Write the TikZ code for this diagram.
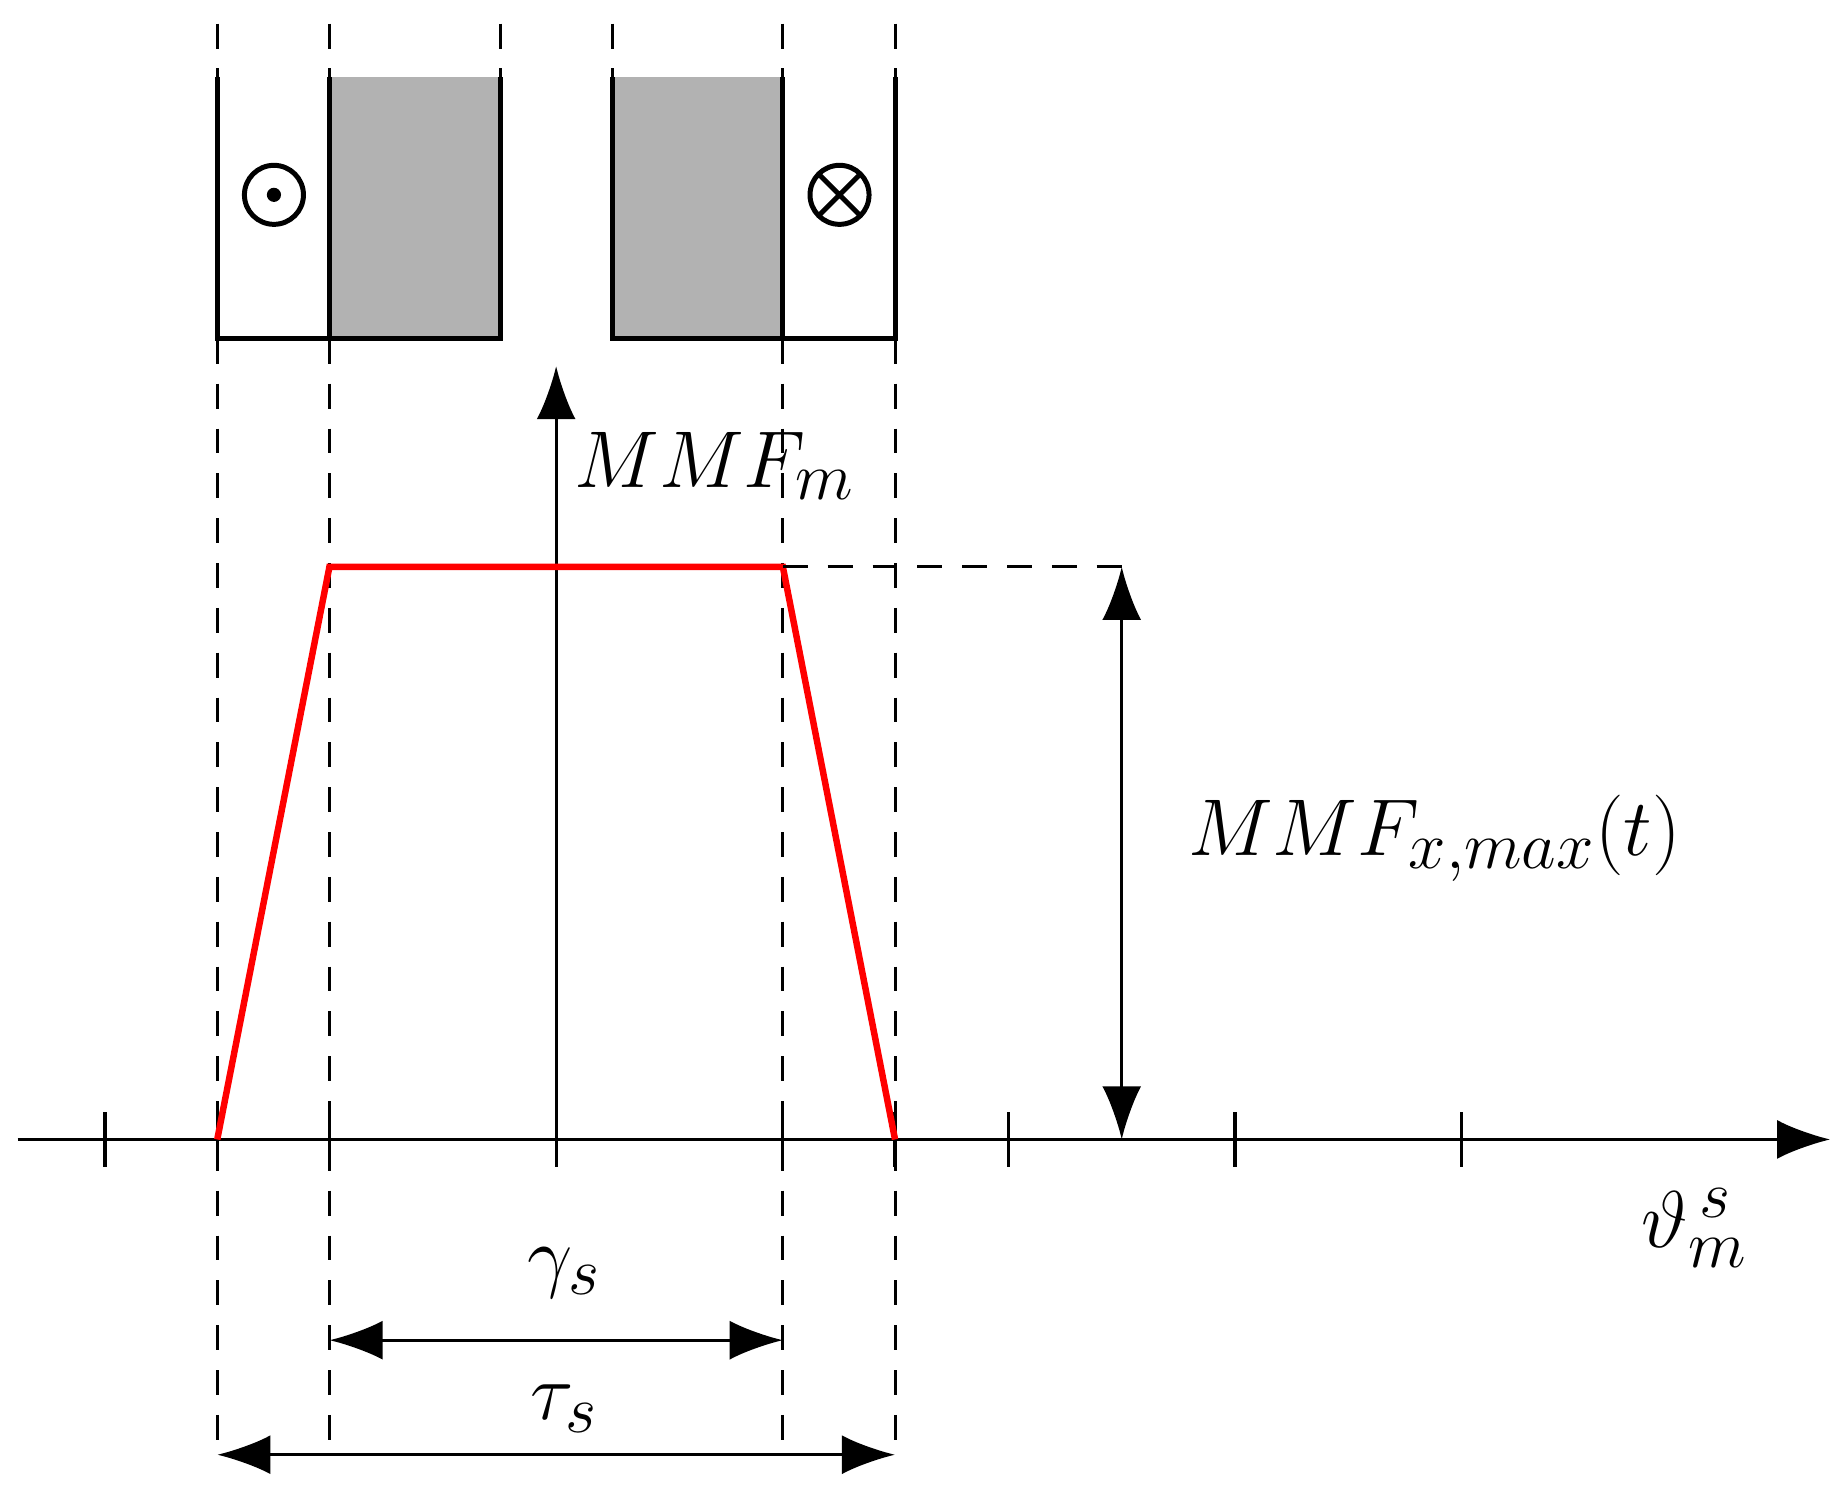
\documentclass[tikz,border=0pt]{standalone}
\usetikzlibrary{arrows.meta}
\tikzset{
  wall/.style={line width=2pt},
  guide/.style={line width=1.2pt, dash pattern=on 10pt off 8pt},
  curve/.style={red, line width=2.6pt},
  arrow/.style={line width=1.3pt, -{Latex[length=0.75cm,width=0.55cm]}},
  darrow/.style={line width=1.3pt, {Latex[length=0.75cm,width=0.55cm]}-{Latex[length=0.75cm,width=0.55cm]}},
  lbl/.style={font=\Huge, scale=1.3}
}
\begin{document}
\begin{tikzpicture}[x=0.01667cm, y=-0.01667cm]
\useasboundingbox (0,0) rectangle (1560,1258);
% slots
\fill[black!30] (279,65) rectangle (424,287);
\fill[black!30] (519,65) rectangle (663,287);
\draw[wall] (184,65) -- (184,287) -- (424,287) -- (424,65);
\draw[wall] (279,65) -- (279,287);
\draw[wall] (519,65) -- (519,287) -- (758,287) -- (758,65);
\draw[wall] (663,65) -- (663,287);
% conductors
\draw[wall] (232,165) circle (25);
\fill (232,165) circle (6);
\draw[wall] (711,165) circle (25);
\draw[wall] (711,165) ++(-17,-17) -- ++(34,34) ++(0,-34) -- ++(-34,34);
% guide lines
\foreach \x in {184,279,663,758} {
  \draw[guide] (\x,20) -- (\x,65);
  \draw[guide] (\x,287) -- (\x,1235);
}
\foreach \x in {424,519} \draw[guide] (\x,20) -- (\x,65);
% axes
\coordinate (o) at (15,965);
\coordinate (xend) at (1550,965);
\coordinate (org) at (471,965);
\coordinate (yend) at (471,310);
\draw[arrow] (o) -- (xend);
\draw[arrow] (org) -- (yend);
\foreach \x in {89,184,279,471,663,758,854,1046,1238}
  \draw[line width=1.3pt] (\x,942) -- (\x,988);
% mmf curve
\coordinate (a) at (184,965);
\coordinate (b) at (279,480);
\coordinate (c) at (663,480);
\coordinate (d) at (758,965);
\draw[curve] (a) -- (b) -- (c) -- (d);
\coordinate (top) at (950,480);
\coordinate (bot) at (950,965);
\draw[guide] (c) -- (top);
\draw[darrow] (top) -- (bot);
% widths
\coordinate (g1) at (279,1135);
\coordinate (g2) at (663,1135);
\coordinate (t1) at (184,1232);
\coordinate (t2) at (758,1232);
\draw[darrow] (g1) -- (g2);
\draw[darrow] (t1) -- (t2);
% labels
\node[lbl] (mmfm) at (605,395) {$MMF_m$};
\node[lbl] (mmfx) at (1215,710) {$MMF_{x,max}(t)$};
\node[lbl] (theta) at (1435,1040) {$\vartheta_m^{\,s}$};
\node[lbl] (gam) at (478,1078) {$\gamma_s$};
\node[lbl] (tau) at (478,1193) {$\tau_s$};
\end{tikzpicture}
\end{document}
